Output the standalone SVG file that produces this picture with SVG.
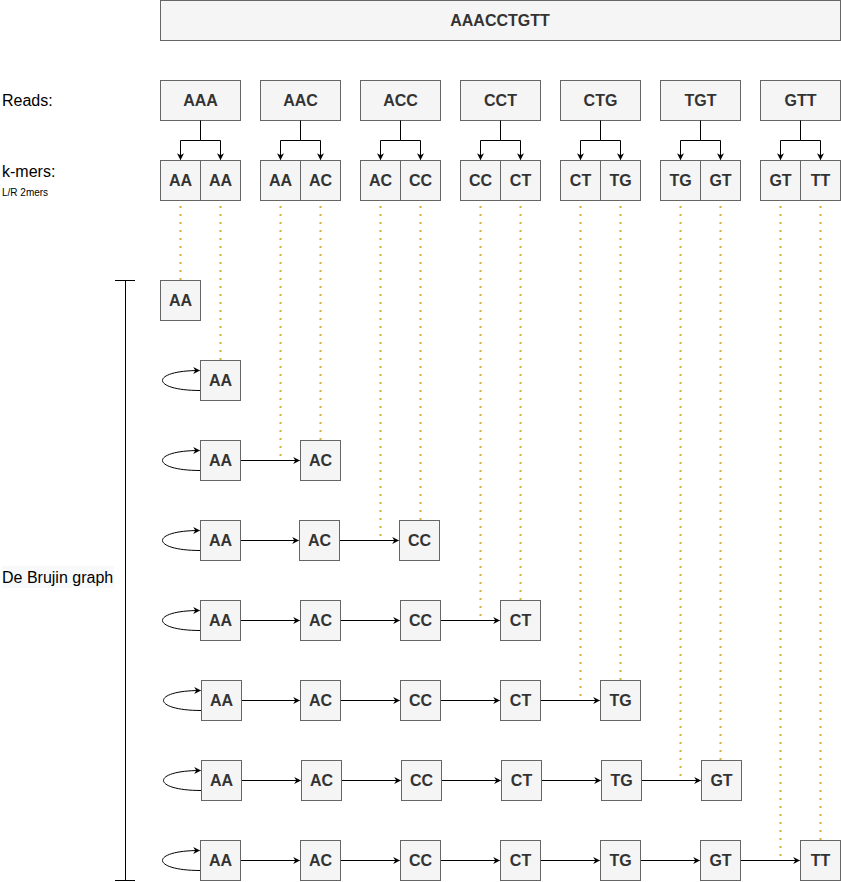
<svg xmlns="http://www.w3.org/2000/svg" width="841" height="882" viewBox="0 0 841 882">
<style>
.b{fill:#f5f5f5;stroke:#666666;stroke-width:1}
.t{font-family:"Liberation Sans",Arial,sans-serif;font-weight:bold;font-size:16px;fill:#333333;text-anchor:middle;dominant-baseline:central}
.l{font-family:"Liberation Sans",Arial,sans-serif;font-size:16px;fill:#000000}
.e{fill:none;stroke:#000000;stroke-width:1}
.d{fill:none;stroke:#d4b040;stroke-width:2;stroke-dasharray:2 6}
</style>
<defs>
<marker id="a" viewBox="0 0 10 10" refX="9" refY="5" markerWidth="7" markerHeight="7" markerUnits="userSpaceOnUse" orient="auto">
<path d="M0,0 L10,5 L0,10 L3,5 Z" fill="#000000"/>
</marker>
</defs>
<rect width="841" height="882" fill="#ffffff"/>

<g id="genome"><rect class="b" x="160.5" y="0.5" width="680" height="40"/><text class="t" x="500" y="20">AAACCTGTT</text></g>

<g id="labels">
<text class="l" x="2" y="106">Reads:</text>
<text class="l" x="2" y="177">k-mers:</text>
<text x="2" y="196" style="font-family:'Liberation Sans',Arial,sans-serif;font-size:10px;fill:#000">L/R 2mers</text>
<rect x="2" y="566" width="112" height="22" fill="#f8f9fa"/>
<text class="l" x="2" y="583">De Brujin graph</text>
</g>

<g id="bracket" class="e">
<path d="M125.5,280.5 V880.5 M115,280.5 H135 M115,880.5 H135"/>
</g>

<g id="reads">
<g id="r1"><rect class="b" x="160.5" y="80.5" width="80" height="40"/><text class="t" x="200.5" y="100.5">AAA</text></g>
<g id="r2"><rect class="b" x="260.5" y="80.5" width="80" height="40"/><text class="t" x="300.5" y="100.5">AAC</text></g>
<g id="r3"><rect class="b" x="360.5" y="80.5" width="80" height="40"/><text class="t" x="400.5" y="100.5">ACC</text></g>
<g id="r4"><rect class="b" x="460.5" y="80.5" width="80" height="40"/><text class="t" x="500.5" y="100.5">CCT</text></g>
<g id="r5"><rect class="b" x="560.5" y="80.5" width="80" height="40"/><text class="t" x="600.5" y="100.5">CTG</text></g>
<g id="r6"><rect class="b" x="660.5" y="80.5" width="80" height="40"/><text class="t" x="700.5" y="100.5">TGT</text></g>
<g id="r7"><rect class="b" x="760.5" y="80.5" width="80" height="40"/><text class="t" x="800.5" y="100.5">GTT</text></g>
</g>

<g id="kmers">
<g id="k1"><rect class="b" x="160.5" y="160.5" width="40" height="40"/><text class="t" x="180.5" y="180.5">AA</text></g>
<g id="k2"><rect class="b" x="200.5" y="160.5" width="40" height="40"/><text class="t" x="220.5" y="180.5">AA</text></g>
<g id="k3"><rect class="b" x="260.5" y="160.5" width="40" height="40"/><text class="t" x="280.5" y="180.5">AA</text></g>
<g id="k4"><rect class="b" x="300.5" y="160.5" width="40" height="40"/><text class="t" x="320.5" y="180.5">AC</text></g>
<g id="k5"><rect class="b" x="360.5" y="160.5" width="40" height="40"/><text class="t" x="380.5" y="180.5">AC</text></g>
<g id="k6"><rect class="b" x="400.5" y="160.5" width="40" height="40"/><text class="t" x="420.5" y="180.5">CC</text></g>
<g id="k7"><rect class="b" x="460.5" y="160.5" width="40" height="40"/><text class="t" x="480.5" y="180.5">CC</text></g>
<g id="k8"><rect class="b" x="500.5" y="160.5" width="40" height="40"/><text class="t" x="520.5" y="180.5">CT</text></g>
<g id="k9"><rect class="b" x="560.5" y="160.5" width="40" height="40"/><text class="t" x="580.5" y="180.5">CT</text></g>
<g id="k10"><rect class="b" x="600.5" y="160.5" width="40" height="40"/><text class="t" x="620.5" y="180.5">TG</text></g>
<g id="k11"><rect class="b" x="660.5" y="160.5" width="40" height="40"/><text class="t" x="680.5" y="180.5">TG</text></g>
<g id="k12"><rect class="b" x="700.5" y="160.5" width="40" height="40"/><text class="t" x="720.5" y="180.5">GT</text></g>
<g id="k13"><rect class="b" x="760.5" y="160.5" width="40" height="40"/><text class="t" x="780.5" y="180.5">GT</text></g>
<g id="k14"><rect class="b" x="800.5" y="160.5" width="40" height="40"/><text class="t" x="820.5" y="180.5">TT</text></g>
</g>

<g id="connectors">
<g class="e">
<path d="M200.5,120.5 V140.5 H180.5 V159.5" marker-end="url(#a)"/><path d="M200.5,140.5 H220.5 V159.5" marker-end="url(#a)"/>
<path d="M300.5,120.5 V140.5 H280.5 V159.5" marker-end="url(#a)"/><path d="M300.5,140.5 H320.5 V159.5" marker-end="url(#a)"/>
<path d="M400.5,120.5 V140.5 H380.5 V159.5" marker-end="url(#a)"/><path d="M400.5,140.5 H420.5 V159.5" marker-end="url(#a)"/>
<path d="M500.5,120.5 V140.5 H480.5 V159.5" marker-end="url(#a)"/><path d="M500.5,140.5 H520.5 V159.5" marker-end="url(#a)"/>
<path d="M600.5,120.5 V140.5 H580.5 V159.5" marker-end="url(#a)"/><path d="M600.5,140.5 H620.5 V159.5" marker-end="url(#a)"/>
<path d="M700.5,120.5 V140.5 H680.5 V159.5" marker-end="url(#a)"/><path d="M700.5,140.5 H720.5 V159.5" marker-end="url(#a)"/>
<path d="M800.5,120.5 V140.5 H780.5 V159.5" marker-end="url(#a)"/><path d="M800.5,140.5 H820.5 V159.5" marker-end="url(#a)"/>
</g>
<g class="d">
<path d="M180.5,206 V280"/>
<path d="M220.5,206 V360"/>
<path d="M280.5,206 V460"/>
<path d="M320.5,206 V440"/>
<path d="M380.5,206 V540"/>
<path d="M420.5,206 V520"/>
<path d="M480.5,206 V620"/>
<path d="M520.5,206 V600"/>
<path d="M580.5,206 V700"/>
<path d="M620.5,206 V680"/>
<path d="M680.5,206 V780"/>
<path d="M720.5,206 V760"/>
<path d="M780.5,206 V860"/>
<path d="M820.5,206 V840"/>
</g>
<g class="e">
<path d="M200.5,390.5 C150,390.5 150,370.5 199.5,370.5" marker-end="url(#a)"/>
<path d="M200.5,470.5 C150,470.5 150,450.5 199.5,450.5" marker-end="url(#a)"/>
<path d="M200.5,550.5 C150,550.5 150,530.5 199.5,530.5" marker-end="url(#a)"/>
<path d="M200.5,630.5 C150,630.5 150,610.5 199.5,610.5" marker-end="url(#a)"/>
<path d="M201.5,710.5 C151,710.5 151,690.5 200.5,690.5" marker-end="url(#a)"/>
<path d="M201.5,790.5 C151,790.5 151,770.5 200.5,770.5" marker-end="url(#a)"/>
<path d="M200.5,870.5 C150,870.5 150,850.5 199.5,850.5" marker-end="url(#a)"/>
<path d="M240.5,460.5 H299.5" marker-end="url(#a)"/>
<path d="M240.5,540.5 H298.5" marker-end="url(#a)"/>
<path d="M339.5,540.5 H398.5" marker-end="url(#a)"/>
<path d="M240.5,620.5 H299.5" marker-end="url(#a)"/>
<path d="M340.5,620.5 H399.5" marker-end="url(#a)"/>
<path d="M440.5,620.5 H499.5" marker-end="url(#a)"/>
<path d="M241.5,700.5 H299.5" marker-end="url(#a)"/>
<path d="M340.5,700.5 H399.5" marker-end="url(#a)"/>
<path d="M440.5,700.5 H499.5" marker-end="url(#a)"/>
<path d="M540.5,700.5 H599.5" marker-end="url(#a)"/>
<path d="M241.5,780.5 H300.5" marker-end="url(#a)"/>
<path d="M341.5,780.5 H400.5" marker-end="url(#a)"/>
<path d="M441.5,780.5 H500.5" marker-end="url(#a)"/>
<path d="M541.5,780.5 H600.5" marker-end="url(#a)"/>
<path d="M641.5,780.5 H700.5" marker-end="url(#a)"/>
<path d="M240.5,860.5 H299.5" marker-end="url(#a)"/>
<path d="M340.5,860.5 H399.5" marker-end="url(#a)"/>
<path d="M440.5,860.5 H499.5" marker-end="url(#a)"/>
<path d="M540.5,860.5 H599.5" marker-end="url(#a)"/>
<path d="M640.5,860.5 H699.5" marker-end="url(#a)"/>
<path d="M740.5,860.5 H799.5" marker-end="url(#a)"/>
</g>
</g>

<g id="graph">
<g id="g0a"><rect class="b" x="160.5" y="280.5" width="40" height="40"/><text class="t" x="180.5" y="300.5">AA</text></g>
<g id="g1a"><rect class="b" x="200.5" y="360.5" width="40" height="40"/><text class="t" x="220.5" y="380.5">AA</text></g>
<g id="g2a"><rect class="b" x="200.5" y="440.5" width="40" height="40"/><text class="t" x="220.5" y="460.5">AA</text></g>
<g id="g2b"><rect class="b" x="300.5" y="440.5" width="40" height="40"/><text class="t" x="320.5" y="460.5">AC</text></g>
<g id="g3a"><rect class="b" x="200.5" y="520.5" width="40" height="40"/><text class="t" x="220.5" y="540.5">AA</text></g>
<g id="g3b"><rect class="b" x="299.5" y="520.5" width="40" height="40"/><text class="t" x="319.5" y="540.5">AC</text></g>
<g id="g3c"><rect class="b" x="399.5" y="520.5" width="40" height="40"/><text class="t" x="419.5" y="540.5">CC</text></g>
<g id="g4a"><rect class="b" x="200.5" y="600.5" width="40" height="40"/><text class="t" x="220.5" y="620.5">AA</text></g>
<g id="g4b"><rect class="b" x="300.5" y="600.5" width="40" height="40"/><text class="t" x="320.5" y="620.5">AC</text></g>
<g id="g4c"><rect class="b" x="400.5" y="600.5" width="40" height="40"/><text class="t" x="420.5" y="620.5">CC</text></g>
<g id="g4d"><rect class="b" x="500.5" y="600.5" width="40" height="40"/><text class="t" x="520.5" y="620.5">CT</text></g>
<g id="g5a"><rect class="b" x="201.5" y="680.5" width="40" height="40"/><text class="t" x="221.5" y="700.5">AA</text></g>
<g id="g5b"><rect class="b" x="300.5" y="680.5" width="40" height="40"/><text class="t" x="320.5" y="700.5">AC</text></g>
<g id="g5c"><rect class="b" x="400.5" y="680.5" width="40" height="40"/><text class="t" x="420.5" y="700.5">CC</text></g>
<g id="g5d"><rect class="b" x="500.5" y="680.5" width="40" height="40"/><text class="t" x="520.5" y="700.5">CT</text></g>
<g id="g5e"><rect class="b" x="600.5" y="680.5" width="40" height="40"/><text class="t" x="620.5" y="700.5">TG</text></g>
<g id="g6a"><rect class="b" x="201.5" y="760.5" width="40" height="40"/><text class="t" x="221.5" y="780.5">AA</text></g>
<g id="g6b"><rect class="b" x="301.5" y="760.5" width="40" height="40"/><text class="t" x="321.5" y="780.5">AC</text></g>
<g id="g6c"><rect class="b" x="401.5" y="760.5" width="40" height="40"/><text class="t" x="421.5" y="780.5">CC</text></g>
<g id="g6d"><rect class="b" x="501.5" y="760.5" width="40" height="40"/><text class="t" x="521.5" y="780.5">CT</text></g>
<g id="g6e"><rect class="b" x="601.5" y="760.5" width="40" height="40"/><text class="t" x="621.5" y="780.5">TG</text></g>
<g id="g6f"><rect class="b" x="701.5" y="760.5" width="40" height="40"/><text class="t" x="721.5" y="780.5">GT</text></g>
<g id="g7a"><rect class="b" x="200.5" y="840.5" width="40" height="40"/><text class="t" x="220.5" y="860.5">AA</text></g>
<g id="g7b"><rect class="b" x="300.5" y="840.5" width="40" height="40"/><text class="t" x="320.5" y="860.5">AC</text></g>
<g id="g7c"><rect class="b" x="400.5" y="840.5" width="40" height="40"/><text class="t" x="420.5" y="860.5">CC</text></g>
<g id="g7d"><rect class="b" x="500.5" y="840.5" width="40" height="40"/><text class="t" x="520.5" y="860.5">CT</text></g>
<g id="g7e"><rect class="b" x="600.5" y="840.5" width="40" height="40"/><text class="t" x="620.5" y="860.5">TG</text></g>
<g id="g7f"><rect class="b" x="700.5" y="840.5" width="40" height="40"/><text class="t" x="720.5" y="860.5">GT</text></g>
<g id="g7g"><rect class="b" x="800.5" y="840.5" width="40" height="40"/><text class="t" x="820.5" y="860.5">TT</text></g>
</g>
</svg>
